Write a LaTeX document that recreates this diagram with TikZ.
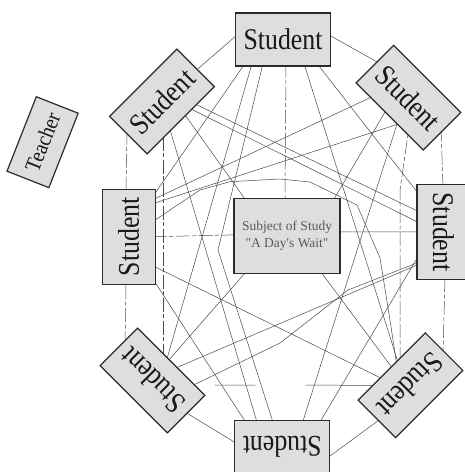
\documentclass[tikz,border=0pt]{standalone}
\usepackage{fontspec}
\setmainfont{Liberation Serif}
\newfontfamily\stufont[FakeStretch=0.86]{Liberation Serif}
\newfontfamily\teafont[FakeStretch=0.9]{Liberation Serif}
\newfontfamily\subjfont[Ligatures=TeXOff]{Liberation Serif}
\usetikzlibrary{calc,backgrounds}
\definecolor{boxfill}{HTML}{DEDEDE}
\definecolor{boxline}{HTML}{2B2B2B}
\definecolor{wirecol}{HTML}{4A4A4A}
\newcommand\relpt[3]{($(#1)+(#2,#3)$)}
\begin{document}
\begin{tikzpicture}[x=1pt,y=-1pt,
  box/.style={draw=boxline,fill=boxfill,line width=1.2pt,inner sep=0pt,outer sep=0pt},
  student/.style={box,minimum width=95pt,minimum height=53pt,font=\stufont\fontsize{30}{30}\selectfont,text=black!90},
  wire/.style={draw=wirecol,line width=0.5pt},
  dashwire/.style={wire,dash pattern=on 14pt off 2.5pt on 4pt off 2.5pt}]
\useasboundingbox (0,0) rectangle (465,472);
% nodes
\node[student] (T) at (283,39.5) {Student};
\node[student,rotate=-45] (TR) at (408.4,97.7) {Student};
\node[student,rotate=-90] (R) at (443.5,232) {Student};
\node[student,rotate=-135] (BR) at (410.5,385.3) {Student};
\node[student,rotate=180] (B) at (282.3,447.2) {Student};
\node[student,rotate=135] (BL) at (152.5,380.5) {Student};
\node[student,rotate=90] (L) at (128.7,236.7) {Student};
\node[student,rotate=45] (TL) at (162,101.5) {Student};
\node[box,minimum width=106pt,minimum height=75pt,align=center,
      font=\subjfont\fontsize{13.5}{16.7}\selectfont,text=black!65] (C) at (287,235.8)
      {Subject of Study\\"A Day's Wait"};
\node[box,minimum width=80pt,minimum height=45pt,rotate=68.5,
      font=\teafont\fontsize{22}{22}\selectfont,text=black!90] (Tea) at (42.6,142.2) {Teacher};
% connectors
\begin{scope}[on background layer]
% outer ring
\draw[wire] \relpt{TL}{34}{-31} -- \relpt{T}{-46}{-4.5};
\draw[wire] \relpt{T}{46}{-4.5} -- \relpt{TR}{-29.4}{-34.7};
\draw[dashwire] \relpt{TR}{32.6}{30} -- \relpt{R}{-0.5}{-46};
\draw[dashwire] \relpt{R}{1.5}{46} -- \relpt{BR}{32.5}{-31.3};
\draw[wire] \relpt{BR}{-25}{30} -- \relpt{B}{46}{10};
\draw[wire] \relpt{B}{-46}{-4} -- \relpt{BL}{30}{30};
\draw[dashwire] \relpt{BL}{-27.5}{-35.5} -- \relpt{L}{-2.7}{46};
\draw[dashwire] \relpt{L}{-2.7}{-46} -- \relpt{TL}{-35}{29.5};
% to the subject
\draw[dashwire] \relpt{T}{3}{24} -- \relpt{C}{-2}{-36};
\draw[dashwire] \relpt{L}{24}{0} -- \relpt{C}{-50}{-1};
\draw[wire] \relpt{C}{50}{-4} -- \relpt{R}{-24}{0};
\draw[wire] \relpt{TL}{22}{12} -- \relpt{C}{-40}{-34};
\draw[wire] \relpt{TR}{-22}{12} -- \relpt{C}{46}{-35};
\draw[wire] \relpt{BL}{15}{-19} -- \relpt{C}{-40}{35};
\draw[wire] \relpt{C}{33}{35} -- \relpt{BR}{-18}{-17};
% long verticals and horizontal
\draw[dashwire] \relpt{TL}{1}{35} -- \relpt{BL}{10.5}{-24};
\draw[dashwire] \relpt{TR}{2}{20} -- (400,190) -- \relpt{BR}{-10.5}{-24};
\draw[wire,dash pattern=on 41pt off 50pt on 200pt off 22pt,dash phase=291pt]
  \relpt{BL}{40}{4.5} -- \relpt{BR}{-37}{0};
% student to student
\draw[wire] \relpt{TL}{32}{2} -- \relpt{R}{-24}{-20};
\draw[wire] \relpt{TL}{28}{7} -- \relpt{R}{-24}{-9};
\draw[wire] \relpt{TL}{8}{28} -- \relpt{B}{-25}{-24};
\draw[wire] \relpt{T}{-38}{24} -- \relpt{L}{24}{-40};
\draw[wire] \relpt{T}{-31}{24} -- \relpt{BL}{14}{-20};
\draw[wire] \relpt{T}{-20}{24} -- (218,250) -- \relpt{B}{-9}{-24};
\draw[wire] \relpt{T}{21}{24} -- \relpt{BR}{-12.5}{-23};
\draw[wire] \relpt{T}{34}{24} -- \relpt{R}{-24}{-37};
\draw[wire] \relpt{TR}{-34}{-2} -- \relpt{L}{24}{-37};
\draw[wire] \relpt{L}{24}{-33} -- \relpt{TR}{-6}{25};
\draw[wire] \relpt{TR}{-10}{22} -- \relpt{B}{20}{-24};
\draw[wire] \relpt{BL}{22}{-12} -- \relpt{R}{-24}{32};
\draw[wire] \relpt{BL}{38}{6} -- (280,343) -- (348,290) -- \relpt{R}{-24}{30};
\draw[wire] \relpt{R}{-24}{22} -- \relpt{B}{37}{-24};
\draw[wire] \relpt{L}{24}{29} -- \relpt{BR}{-27}{-6};
\draw[wire] \relpt{L}{24}{42} -- \relpt{B}{-36}{-24};
\draw[wire] \relpt{L}{24}{-15} -- (180,203.3) -- (200,190) -- (230,181.7) -- (280,179)
  -- (310,182) -- (357,205) -- (380,258) -- (390,320) -- \relpt{BR}{-14}{-22};
\end{scope}
\end{tikzpicture}
\end{document}
